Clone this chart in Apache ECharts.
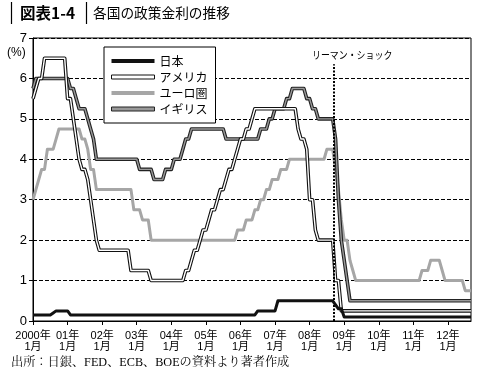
<!DOCTYPE html>
<html><head><meta charset="utf-8">
<script src="https://cdn.jsdelivr.net/npm/echarts@6/dist/echarts.min.js"></script>
<style>html,body{margin:0;padding:0;background:#fff}#c{width:487px;height:381px}</style>
</head><body><div id="c"></div>
<script>
// x = months since Jan 2000 (monthly values, Jan 2000 .. Sep 2012)
const xTickLabels = ['2000年\n1月','01年\n1月','02年\n1月','03年\n1月','04年\n1月','05年\n1月','06年\n1月','07年\n1月','08年\n1月','09年\n1月','10年\n1月','11年\n1月','12年\n1月'];
const yTickLabels = ['0','1','2','3','4','5','6','7'];
const seriesNames = ['日本','アメリカ','ユーロ圏','イギリス'];
const lehmanMonth = 104.5;
const lehmanLabel = 'リーマン・ショック';

const jp = [
0.15,0.15,0.15,0.15,0.15,0.15,0.15,0.2,0.25,0.25,0.25,0.25,
0.25,0.15,0.15,0.15,0.15,0.15,0.15,0.15,0.15,0.15,0.15,0.15,
0.15,0.15,0.15,0.15,0.15,0.15,0.15,0.15,0.15,0.15,0.15,0.15,
0.15,0.15,0.15,0.15,0.15,0.15,0.15,0.15,0.15,0.15,0.15,0.15,
0.15,0.15,0.15,0.15,0.15,0.15,0.15,0.15,0.15,0.15,0.15,0.15,
0.15,0.15,0.15,0.15,0.15,0.15,0.15,0.15,0.15,0.15,0.15,0.15,
0.15,0.15,0.15,0.15,0.15,0.15,0.25,0.25,0.25,0.25,0.25,0.25,
0.25,0.5,0.5,0.5,0.5,0.5,0.5,0.5,0.5,0.5,0.5,0.5,
0.5,0.5,0.5,0.5,0.5,0.5,0.5,0.5,0.5,0.4,0.3,0.3,
0.1,0.1,0.1,0.1,0.1,0.1,0.1,0.1,0.1,0.1,0.1,0.1,
0.1,0.1,0.1,0.1,0.1,0.1,0.1,0.1,0.1,0.1,0.1,0.1,
0.1,0.1,0.1,0.1,0.1,0.1,0.1,0.1,0.1,0.1,0.1,0.1,
0.1,0.1,0.1,0.1,0.1,0.1,0.1,0.1,0.1
];
const us = [
5.5,5.75,6,6,6.5,6.5,6.5,6.5,6.5,6.5,6.5,6.5,
5.5,5.5,5,4.5,4,3.75,3.75,3.5,3,2.5,2,1.75,
1.75,1.75,1.75,1.75,1.75,1.75,1.75,1.75,1.75,1.75,1.25,1.25,
1.25,1.25,1.25,1.25,1.25,1,1,1,1,1,1,1,
1,1,1,1,1,1.25,1.25,1.5,1.75,1.75,2,2.25,
2.25,2.5,2.75,2.75,3,3.25,3.25,3.5,3.75,3.75,4,4.25,
4.5,4.5,4.75,4.75,5,5.25,5.25,5.25,5.25,5.25,5.25,5.25,
5.25,5.25,5.25,5.25,5.25,5.25,5.25,5.25,4.75,4.5,4.5,4.25,
3,3,2.25,2,2,2,2,2,2,1,1,0.25,
0.25,0.25,0.25,0.25,0.25,0.25,0.25,0.25,0.25,0.25,0.25,0.25,
0.25,0.25,0.25,0.25,0.25,0.25,0.25,0.25,0.25,0.25,0.25,0.25,
0.25,0.25,0.25,0.25,0.25,0.25,0.25,0.25,0.25,0.25,0.25,0.25,
0.25,0.25,0.25,0.25,0.25,0.25,0.25,0.25,0.25
];
const ecb = [
3,3.25,3.5,3.75,3.75,4.25,4.25,4.25,4.5,4.75,4.75,4.75,
4.75,4.75,4.75,4.75,4.75,4.5,4.5,4.25,3.75,3.75,3.25,3.25,
3.25,3.25,3.25,3.25,3.25,3.25,3.25,3.25,3.25,3.25,3.25,2.75,
2.75,2.75,2.5,2.5,2.5,2,2,2,2,2,2,2,
2,2,2,2,2,2,2,2,2,2,2,2,
2,2,2,2,2,2,2,2,2,2,2,2.25,
2.25,2.25,2.5,2.5,2.5,2.75,2.75,3,3,3.25,3.25,3.5,
3.5,3.5,3.75,3.75,3.75,4,4,4,4,4,4,4,
4,4,4,4,4,4,4.25,4.25,4.25,3.75,3.25,2.5,
2,2,1.5,1.25,1,1,1,1,1,1,1,1,
1,1,1,1,1,1,1,1,1,1,1,1,
1,1,1,1.25,1.25,1.25,1.5,1.5,1.5,1.5,1.25,1,
1,1,1,1,1,1,0.75,0.75,0.75
];
const uk = [
5.75,6,6,6,6,6,6,6,6,6,6,6,
6,5.75,5.75,5.5,5.25,5.25,5.25,5,4.75,4.5,4,4,
4,4,4,4,4,4,4,4,4,4,4,4,
4,3.75,3.75,3.75,3.75,3.75,3.5,3.5,3.5,3.5,3.75,3.75,
3.75,4,4,4,4.25,4.5,4.5,4.75,4.75,4.75,4.75,4.75,
4.75,4.75,4.75,4.75,4.75,4.75,4.75,4.5,4.5,4.5,4.5,4.5,
4.5,4.5,4.5,4.5,4.5,4.5,4.5,4.75,4.75,4.75,5,5,
5.25,5.25,5.25,5.25,5.5,5.5,5.75,5.75,5.75,5.75,5.75,5.5,
5.5,5.25,5.25,5,5,5,5,5,5,4.5,3,2,
1.5,1,0.5,0.5,0.5,0.5,0.5,0.5,0.5,0.5,0.5,0.5,
0.5,0.5,0.5,0.5,0.5,0.5,0.5,0.5,0.5,0.5,0.5,0.5,
0.5,0.5,0.5,0.5,0.5,0.5,0.5,0.5,0.5,0.5,0.5,0.5,
0.5,0.5,0.5,0.5,0.5,0.5,0.5,0.5,0.5
];

const pts = a => a.map((v, i) => [i, v]);
const FONT = "'Liberation Sans','Noto Sans CJK JP',sans-serif";
const JFONT = "'Noto Sans CJK JP','Liberation Sans',sans-serif";
const SERIF = "'Liberation Serif','Noto Serif CJK JP','Noto Sans CJK JP',serif";
const chart = echarts.init(document.getElementById('c'), null, {renderer: 'canvas'});
const lineBase = {type: 'line', showSymbol: false, symbol: 'none', smooth: false, animation: false, silent: true};

chart.setOption({
  animation: false,
  backgroundColor: '#fff',
  textStyle: {fontFamily: FONT},
  grid: {left: 33, right: 16, top: 38, bottom: 60, show: true, borderColor: '#000', borderWidth: 1, backgroundColor: 'transparent'},
  xAxis: {
    type: 'value', min: 0, max: 152, interval: 12,
    axisLine: {lineStyle: {color: '#000', width: 1}},
    axisTick: {show: true, length: 4, lineStyle: {color: '#000'}, customValues: xTickLabels.map((_, i) => i * 12)},
    axisLabel: {color: '#000', fontSize: 11, lineHeight: 10.5, margin: 10, fontFamily: FONT,
      customValues: xTickLabels.map((_, i) => i * 12),
      formatter: v => xTickLabels[Math.round(v / 12)] || ''},
    splitLine: {show: false}
  },
  yAxis: {
    type: 'value', min: 0, max: 7, interval: 1,
    axisLine: {show: true, lineStyle: {color: '#000', width: 1}},
    axisTick: {show: true, length: 4, lineStyle: {color: '#000'}},
    axisLabel: {color: '#000', fontSize: 13, margin: 6, fontFamily: FONT, formatter: v => yTickLabels[v]},
    splitLine: {show: true, lineStyle: {color: '#000', width: 1, type: [4, 2]}}
  },
  legend: {
    orient: 'vertical', left: 104, top: 47,
    padding: [8, 8, 8, 7], itemGap: 4, itemWidth: 43, itemHeight: 4,
    backgroundColor: '#fff', borderColor: '#000', borderWidth: 1, borderRadius: 0,
    textStyle: {fontSize: 12, color: '#000', lineHeight: 12, fontFamily: JFONT},
    selectedMode: false,
    data: [
      {name: seriesNames[0], icon: 'rect', itemStyle: {color: '#111', borderWidth: 0}},
      {name: seriesNames[1], icon: 'rect', itemStyle: {color: '#fff', borderColor: '#111', borderWidth: 1}},
      {name: seriesNames[2], icon: 'rect', itemStyle: {color: '#a6a6a6', borderWidth: 0}},
      {name: seriesNames[3], icon: 'rect', itemStyle: {color: '#999', borderColor: '#222', borderWidth: 1}}
    ]
  },
  series: [
    Object.assign({}, lineBase, {name: seriesNames[2], data: pts(ecb), z: 2,
      lineStyle: {color: '#a6a6a6', width: 3, cap: 'butt', join: 'round'}, itemStyle: {color: '#a6a6a6'},
      markLine: {silent: true, symbol: 'none', animation: false, label: {show: false},
        lineStyle: {color: '#000', width: 2, type: [2, 1.5]},
        data: [[{coord: [lehmanMonth, 0]}, {coord: [lehmanMonth, 6.35]}]]}}),
    Object.assign({}, lineBase, {name: seriesNames[3], data: pts(uk), z: 3,
      lineStyle: {color: '#222', width: 3.6, join: 'round'}, itemStyle: {color: '#999'}}),
    Object.assign({}, lineBase, {name: 'uk_inner', data: pts(uk), z: 3,
      lineStyle: {color: '#9a9a9a', width: 1.4, join: 'round'}}),
    Object.assign({}, lineBase, {name: seriesNames[1], data: pts(us), z: 4,
      lineStyle: {color: '#111', width: 3.6, join: 'round'}, itemStyle: {color: '#fff'}}),
    Object.assign({}, lineBase, {name: 'us_inner', data: pts(us), z: 4,
      lineStyle: {color: '#fff', width: 1.4, join: 'round'}}),
    Object.assign({}, lineBase, {name: seriesNames[0], data: pts(jp), z: 5,
      lineStyle: {color: '#111', width: 3, join: 'round'}, itemStyle: {color: '#111'}})
  ],
  graphic: [
    {type: 'line', shape: {x1: 11.5, y1: 2, x2: 11.5, y2: 24}, style: {stroke: '#000', lineWidth: 1.2}},
    {type: 'text', x: 20, y: 13, style: {text: '図表1-4', fontSize: 15.5, fontWeight: 'bold', fill: '#000', fontFamily: JFONT, verticalAlign: 'middle'}},
    {type: 'line', shape: {x1: 86.5, y1: 2, x2: 86.5, y2: 24}, style: {stroke: '#000', lineWidth: 1.2}},
    {type: 'text', x: 93, y: 13, style: {text: '各国の政策金利の推移', fontSize: 13.7, fill: '#000', fontFamily: JFONT, verticalAlign: 'middle'}},
    {type: 'text', x: 7, y: 52.5, style: {text: '(%)', fontSize: 12, fill: '#000', fontFamily: FONT, verticalAlign: 'middle'}},
    {type: 'text', x: 312, y: 55, scaleX: 0.85, style: {text: lehmanLabel, fontSize: 10.5, fill: '#000', fontFamily: JFONT, verticalAlign: 'middle'}},
    {type: 'text', x: 11, y: 363, style: {text: '出所：日銀、FED、ECB、BOEの資料より著者作成', fontSize: 12.2, fill: '#000', fontFamily: SERIF, verticalAlign: 'middle'}}
  ]
});
</script></body></html>
